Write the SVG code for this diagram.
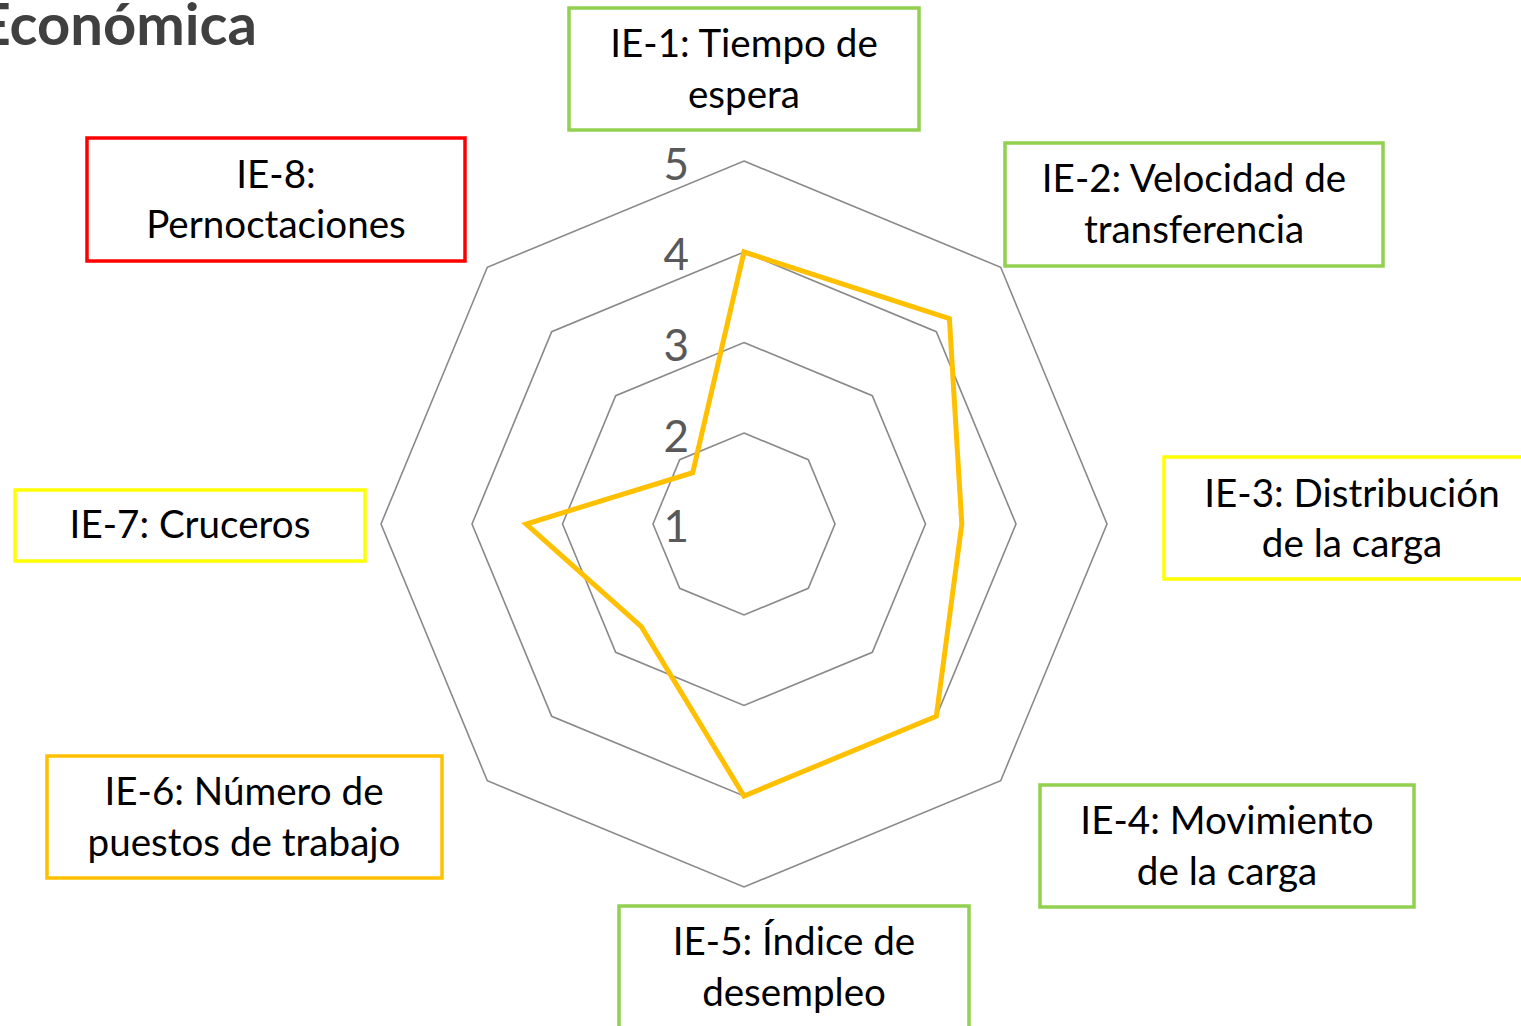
<svg xmlns="http://www.w3.org/2000/svg" width="1521" height="1026" viewBox="0 0 1521 1026">
<style>
.box{fill:#fff;stroke-width:3.5}
.g{stroke:#92D050}.y{stroke:#FFFF00}.o{stroke:#FFC000}.r{stroke:#FF0000}
.t{font-family:Lato,"Liberation Sans",sans-serif;font-size:38.6px;fill:#000;text-anchor:middle}
.grid{fill:none;stroke:#898989;stroke-width:1.6}
.ax{font-family:Lato,"Liberation Sans",sans-serif;font-size:44px;fill:#595959;text-anchor:end}
.data{fill:none;stroke:#FFC000;stroke-width:5;stroke-linejoin:miter}
</style>
<rect width="1521" height="1026" fill="#fff"/>
<text x="257" y="45" style="font-family:Lato,'Liberation Sans',sans-serif;font-weight:bold;font-size:58px;fill:#404040;text-anchor:end">Económica</text>
<g id="chart">
<polygon class="grid" points="744,161 1000.7,267.3 1107,524 1000.7,780.7 744,887 487.3,780.7 381,524 487.3,267.3"/>
<polygon class="grid" points="744,252 936.3,331.7 1016,524 936.3,716.3 744,796 551.7,716.3 472,524 551.7,331.7"/>
<polygon class="grid" points="744,342.5 872.3,395.7 925.5,524 872.3,652.3 744,705.5 615.7,652.3 562.5,524 615.7,395.7"/>
<polygon class="grid" points="744,433 808.3,459.7 835,524 808.3,588.3 744,615 679.7,588.3 653,524 679.7,459.7"/>
<text class="ax" x="689" y="180">5</text>
<text class="ax" x="689" y="270">4</text>
<text class="ax" x="689" y="361">3</text>
<text class="ax" x="689" y="452">2</text>
<text class="ax" x="689" y="542">1</text>
<polygon class="data" points="744,252 949.4,318.6 961.8,524 936.3,716.3 744,796 641.3,626.7 526.2,524 692.7,472.7"/>
</g>
<g id="connectors"/>
<g id="ie1"><rect class="box g" x="569" y="8" width="350" height="122"/><text class="t" x="744" y="57">IE-1: Tiempo de</text><text class="t" x="744" y="108">espera</text></g>
<g id="ie2"><rect class="box g" x="1005" y="143" width="378" height="123"/><text class="t" x="1194" y="192">IE-2: Velocidad de</text><text class="t" x="1194" y="243">transferencia</text></g>
<g id="ie3"><rect class="box y" x="1164" y="457" width="370" height="122"/><text class="t" x="1352" y="507">IE-3: Distribución</text><text class="t" x="1352" y="557">de la carga</text></g>
<g id="ie4"><rect class="box g" x="1040" y="785" width="374" height="122"/><text class="t" x="1227" y="834">IE-4: Movimiento</text><text class="t" x="1227" y="885">de la carga</text></g>
<g id="ie5"><rect class="box g" x="619" y="906" width="350" height="130"/><text class="t" x="794" y="955">IE-5: Índice de</text><text class="t" x="794" y="1006">desempleo</text></g>
<g id="ie6"><rect class="box o" x="47" y="756" width="395" height="122"/><text class="t" x="244" y="805">IE-6: Número de</text><text class="t" x="244" y="856">puestos de trabajo</text></g>
<g id="ie7"><rect class="box y" x="15" y="490" width="350" height="71"/><text class="t" x="190" y="538">IE-7: Cruceros</text></g>
<g id="ie8"><rect class="box r" x="87" y="138" width="378" height="123"/><text class="t" x="276" y="188">IE-8:</text><text class="t" x="276" y="238">Pernoctaciones</text></g>
</svg>
